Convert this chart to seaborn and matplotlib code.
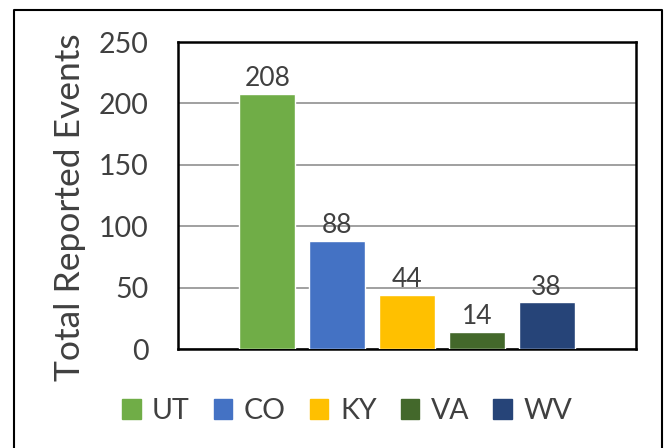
import matplotlib.pyplot as plt
import matplotlib.lines as mlines
import matplotlib.patches as mpatches
import pandas as pd
import seaborn as sns

states = ["UT", "CO", "KY", "VA", "WV"]
events = [208, 88, 44, 14, 38]
colors = ["#70AD47", "#4472C4", "#FFC000", "#43682B", "#264478"]

sns.set_style("white")
plt.rcParams['font.family'] = ['Lato', 'DejaVu Sans']
txt = "#404040"

data = pd.DataFrame({"State": states, "Events": events})

fig = plt.figure(figsize=(6.64, 4.48), dpi=100)
ax = fig.add_axes([178 / 664, 1 - 349 / 448, (636 - 178) / 664, (349 - 42) / 448])

sns.barplot(data=data, x="State", y="Events", hue="State", palette=dict(zip(states, colors)),
            dodge=False, width=0.8, saturation=1, legend=False, ax=ax, zorder=3)

for c in ax.containers:
    ax.bar_label(c, padding=2, fontsize=19, color=txt)

ax.set_ylim(0, 250)
ax.set_yticks(range(0, 251, 50))
ax.set_xlim(-1.28, 5.28)
ax.set_xticks([])
ax.set_xlabel("")
ax.set_ylabel("Total Reported Events", fontsize=25.5, color=txt, va="center")
ax.yaxis.set_label_coords((70 - 178) / 458, (349 - 207) / 307)
ax.tick_params(axis='y', labelsize=20.5, labelcolor=txt, length=0, pad=21)
ax.grid(axis='y', color="#999999", linewidth=1.3, zorder=0)
for s in ax.spines.values():
    s.set_visible(True)
    s.set_color("black")
    s.set_linewidth(1.8)

handles = [mpatches.Patch(color=c, label=s) for s, c in zip(states, colors)]
fig.legend(handles=handles, loc="center", bbox_to_anchor=(347 / 664, 1 - 411 / 448), ncol=5,
           frameon=False, fontsize=20.5, handlelength=0.65, handleheight=0.65,
           handletextpad=0.4, columnspacing=0.85, labelcolor=txt)

# outer chart border (left, top, right)
x0, x1, y1 = 14 / 664, 662 / 664, 1 - 10 / 448
fig.add_artist(mlines.Line2D([x0, x0, x1, x1], [0, y1, y1, 0], color="black", linewidth=1.5))

fig.savefig("out.png", dpi=100)
